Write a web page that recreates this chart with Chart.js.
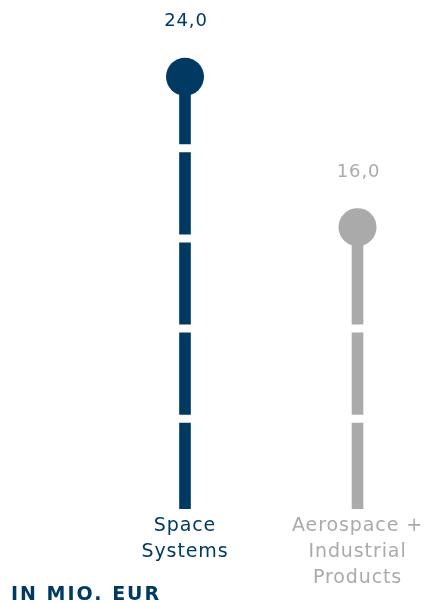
<!DOCTYPE html>
<html>
<head>
<meta charset="utf-8">
<script src="https://cdn.jsdelivr.net/npm/chart.js@4/dist/chart.umd.min.js"></script>
<style>
  body { margin: 0; background: #fff; }
  #wrap { position: relative; width: 427px; height: 603px; }
  #unit {
    position: absolute; left: 11px; top: 582px;
    font-family: "DejaVu Sans", sans-serif; font-weight: bold;
    font-size: 19px; letter-spacing: 2px; color: #003a63; line-height: 22px;
  }
</style>
</head>
<body>
<div id="wrap">
  <canvas id="chart" width="427" height="603"></canvas>
  <div id="unit">IN MIO. EUR</div>
</div>
<script>
// values in Mio. EUR
var categories = [["Space", "Systems"], ["Aerospace +", "Industrial", "Products"]];
var values = [24.0, 16.0];
var valueLabels = ["24,0", "16,0"];
var colors = ["#003a63", "#aaaaaa"];

// wider letters, closer to the original typeface
// (canvas resize resets ctx state, so set it before layout and before drawing)
var spacingPlugin = {
    id: "spacing",
    beforeLayout: function (chart) {
        chart.ctx.letterSpacing = "0.9px";
    },
    beforeDraw: function (chart) {
        chart.ctx.letterSpacing = "0.9px";
    }
};

// white breaks across the bars, at the ticks of the hidden y2 axis
var gapPlugin = {
    id: "gaps",
    afterDatasetDraw: function (chart, args) {
        if (args.index !== 0) return;
        var ctx = chart.ctx;
        var g = chart.scales.y2;
        ctx.save();
        ctx.strokeStyle = "#ffffff";
        ctx.lineWidth = 8;
        g.ticks.forEach(function (t) {
            if (t.value <= g.min || t.value >= g.max) return;
            var py = g.getPixelForValue(t.value);
            ctx.beginPath();
            ctx.moveTo(chart.chartArea.left - 20, py);
            ctx.lineTo(chart.chartArea.right + 20, py);
            ctx.stroke();
        });
        ctx.restore();
    }
};

// value text above each head
var labelPlugin = {
    id: "valueLabels",
    afterDatasetsDraw: function (chart) {
        var ctx = chart.ctx;
        var meta = chart.getDatasetMeta(1);
        ctx.save();
        ctx.font = "18px 'DejaVu Sans', sans-serif";
        ctx.textAlign = "center";
        ctx.textBaseline = "middle";
        meta.data.forEach(function (pt, i) {
            ctx.fillStyle = colors[i];
            ctx.fillText(valueLabels[i], pt.x + 1, pt.y - 55);
        });
        ctx.restore();
    }
};

new Chart(document.getElementById("chart"), {
    type: "bar",
    data: {
        labels: categories,
        datasets: [
            {
                data: values,
                backgroundColor: colors,
                barThickness: 11,
                order: 2,
                clip: { left: 20, right: 20, top: 30, bottom: 0 }
            },
            {
                type: "line",
                data: values,
                showLine: false,
                pointRadius: 19,
                pointHoverRadius: 19,
                pointBorderWidth: 0,
                pointBackgroundColor: colors,
                pointBorderColor: colors,
                order: 1,
                clip: false
            }
        ]
    },
    options: {
        responsive: false,
        animation: false,
        events: [],
        layout: { padding: { left: 185, right: 69, top: 58, bottom: 8 } },
        plugins: { legend: { display: false }, tooltip: { enabled: false } },
        scales: {
            x: {
                offset: false,
                grid: { display: false, drawTicks: false },
                border: { display: false },
                ticks: {
                    padding: 4,
                    maxRotation: 0,
                    autoSkip: false,
                    color: function (c) { return colors[c.index]; },
                    font: { family: "'DejaVu Sans', sans-serif", size: 19, lineHeight: "26px" }
                }
            },
            y: {
                display: false,
                min: 1,
                max: 25
            },
            y2: {
                type: "linear",
                display: false,
                min: 0,
                max: 25,
                ticks: { stepSize: 5 }
            }
        }
    },
    plugins: [spacingPlugin, gapPlugin, labelPlugin]
});
</script>
</body>
</html>
